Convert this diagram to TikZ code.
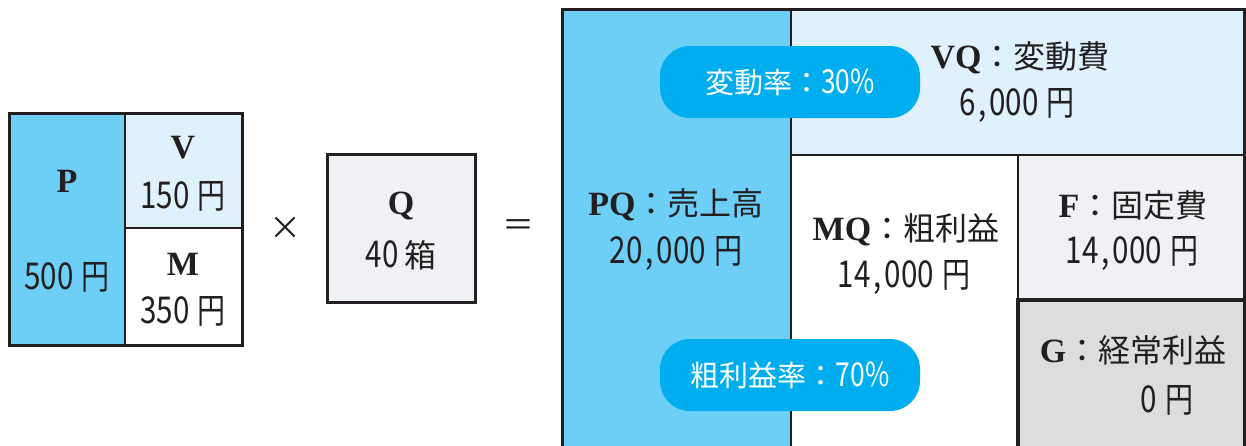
\documentclass[tikz,border=0pt]{standalone}
\usepackage{fontspec}
\setmainfont{Liberation Serif}
\newfontfamily\jpfont{Noto Sans CJK JP}
\newfontfamily\numfont[FakeStretch=0.8]{Noto Sans CJK JP}
\definecolor{pblue}{HTML}{6DCFF6}
\definecolor{vblue}{HTML}{DFF2FC}
\definecolor{qgray}{HTML}{EFF1F4}
\definecolor{ggray}{HTML}{DCDDDE}
\definecolor{pillblue}{HTML}{00AEEF}
\definecolor{ink}{HTML}{231F20}
\newcommand{\lat}[1]{{\fontsize{34}{38}\selectfont\bfseries #1}}
\newcommand{\jp}[1]{{\jpfont\fontsize{32}{36}\selectfont #1}}
\newcommand{\nm}[1]{{\numfont\fontsize{37}{40}\selectfont #1}}
\newcommand{\cm}{\makebox[14pt]{,}}
\newcommand{\yen}{\hspace{8pt}{\numfont\fontsize{35}{40}\selectfont 円}}
\tikzset{
  outerline/.style={draw=ink,line width=3pt},
  innerline/.style={draw=ink,line width=1.8pt},
  gline/.style={draw=ink,line width=4.5pt},
  lbl/.style={text=ink,inner sep=0pt,anchor=center},
  pill/.style={fill=pillblue,rounded corners=30pt,minimum width=260pt,minimum height=72pt,text=white,inner sep=0pt},
  pilltext/.style={font=\jpfont\fontsize{29}{33}\selectfont}
}
\begin{document}
\begin{tikzpicture}[x=1pt,y=-1pt]
\useasboundingbox (0,0) rectangle (1246,445);
\clip (0,0) rectangle (1246,445);
% left box
\fill[pblue] (9,113) rectangle (125,345);
\fill[vblue] (125,113) rectangle (242,228);
\draw[innerline] (125,113) -- (125,345);
\draw[innerline] (125,228) -- (242,228);
\draw[outerline] (9,113) rectangle (242,345);
\node[lbl] (p) at (67,181) {\lat{P}};
\node[lbl] (pv) at (67,277) {\nm{500}\yen};
\node[lbl] (v) at (183,148) {\lat{V}};
\node[lbl] (vv) at (183,196) {\nm{150}\yen};
\node[lbl] (m) at (183,264) {\lat{M}};
\node[lbl] (mv) at (183,311) {\nm{350}\yen};
% times
\node[lbl] (times) at (285,228) {\jp{×}};
% Q box
\draw[outerline,fill=qgray] (327,154) rectangle (475,302);
\node[lbl] (q) at (401,206) {\lat{Q}};
\node[lbl] (qv) at (401,255) {\nm{40}\hspace{6pt}\jp{箱}};
% equals
\node[lbl] (eq) at (518,228) {\jp{＝}};
% right block
\fill[pblue] (562,9) rectangle (791,460);
\fill[vblue] (791,9) rectangle (1244,155);
\fill[qgray] (1018,155) rectangle (1244,300);
\fill[ggray] (1018,300) rectangle (1244,460);
\draw[innerline] (791,9) -- (791,460);
\draw[innerline] (791,155) -- (1244,155);
\draw[innerline] (1018,155) -- (1018,300);
\draw[gline] (1018,460) -- (1018,300) -- (1246,300);
\draw[outerline] (562,460) -- (562,9) -- (1244,9) -- (1244,460);
% texts
\node[lbl] (vq) at (1020,58) {\lat{VQ}\jp{：変動費}};
\node[lbl] (vqv) at (1017,106) {\nm{6\cm000}\yen};
\node[lbl] (pq) at (676,205) {\lat{PQ}\jp{：売上高}};
\node[lbl] (pqv) at (676,253) {\nm{20\cm000}\yen};
\node[lbl] (mq) at (906,230) {\lat{MQ}\jp{：粗利益}};
\node[lbl] (mqv) at (904,277) {\nm{14\cm000}\yen};
\node[lbl] (f) at (1133,205) {\lat{F}\jp{：固定費}};
\node[lbl] (fv) at (1132,253) {\nm{14\cm000}\yen};
\node[lbl] (g) at (1133,350) {\lat{G}\jp{：経常利益}};
\node[lbl] (gv) at (1167,400) {\nm{0}\yen};
% pills
\node[pill] (r1) at (790,82) {};
\node[lbl,text=white,pilltext] (r1t) at (r1.center) {変動率：\numfont\fontsize{33}{36}\selectfont 30\%};
\node[pill] (r2) at (790,375) {};
\node[lbl,text=white,pilltext] (r2t) at (r2.center) {粗利益率：\numfont\fontsize{33}{36}\selectfont 70\%};
\end{tikzpicture}
\end{document}
